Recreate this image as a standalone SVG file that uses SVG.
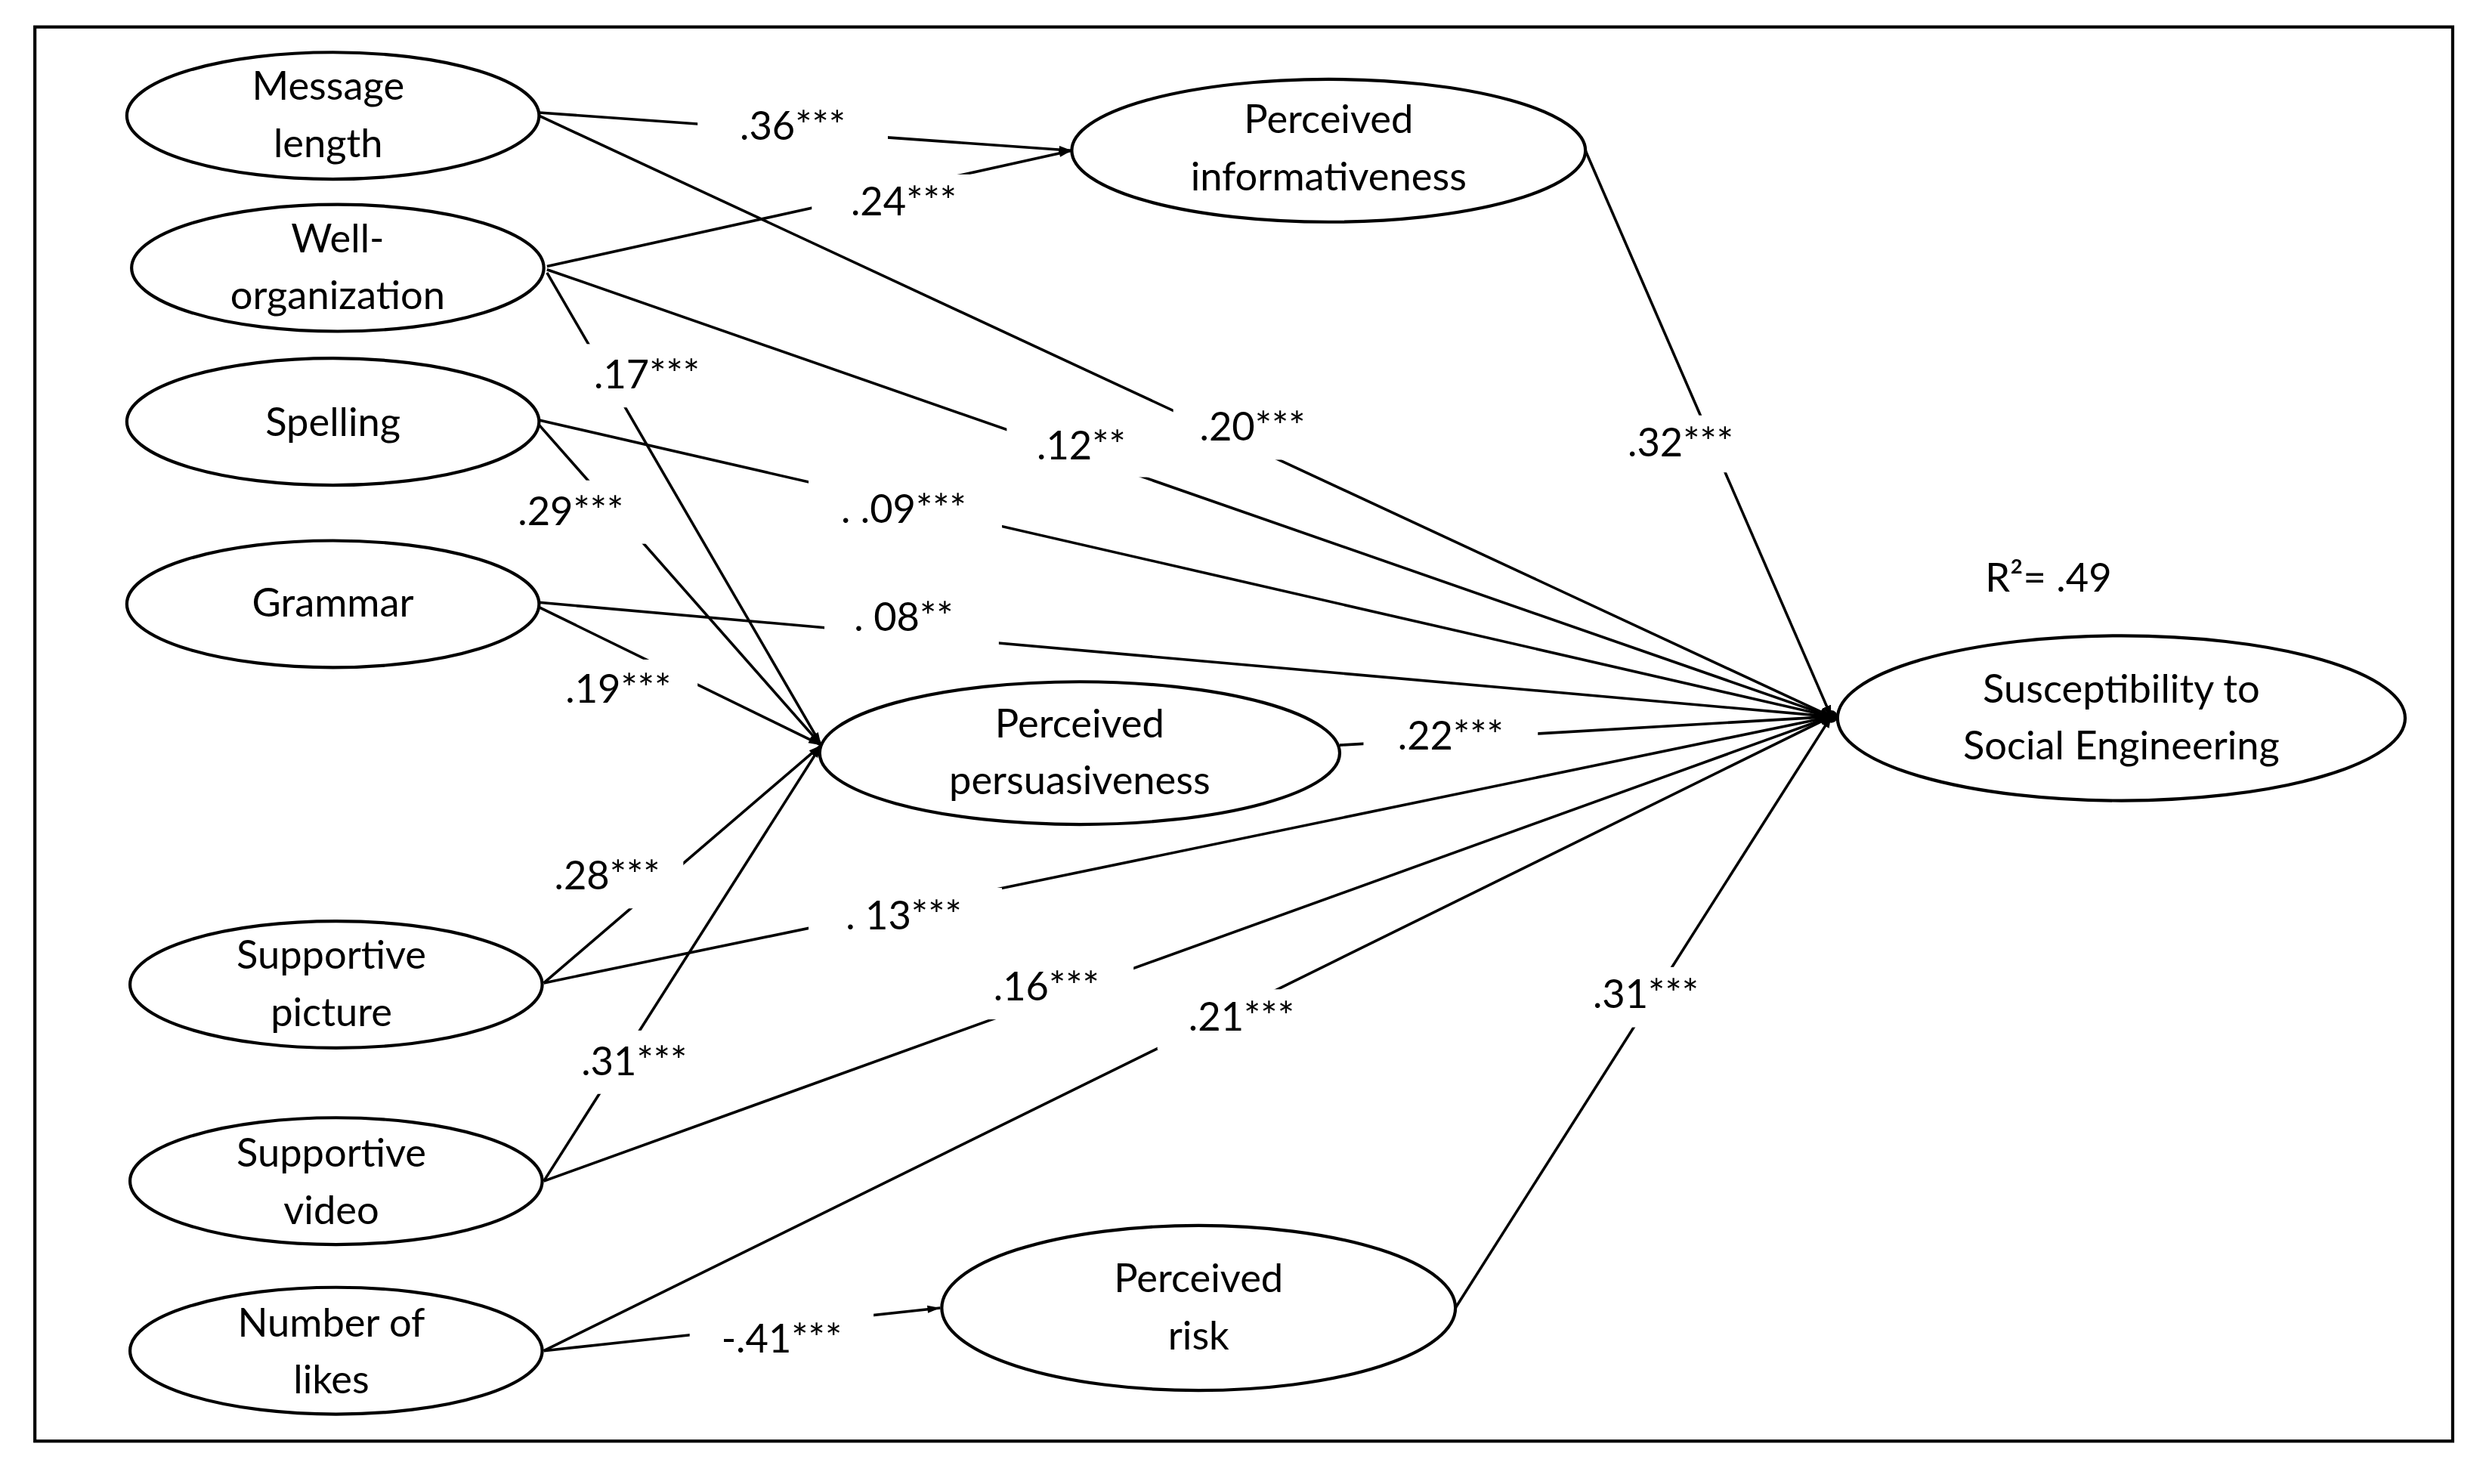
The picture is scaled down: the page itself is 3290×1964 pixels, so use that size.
<svg xmlns="http://www.w3.org/2000/svg" width="3290" height="1964" viewBox="0 0 3290 1964">
<style>
.n{fill:#fff;stroke:#000;stroke-width:2}
.t{font-family:Lato,"Open Sans",sans-serif;font-size:25px;text-anchor:middle;fill:#000}
.e line{stroke:#000;stroke-width:1.7}
.lb rect{fill:#fff}
</style>
<defs>
<marker id="a" viewBox="0 0 10 10" refX="10" refY="5" markerWidth="7" markerHeight="7" markerUnits="userSpaceOnUse" orient="auto"><path d="M0,1 L10,5 L0,9 Z" fill="#000"/></marker>
<marker id="b" viewBox="0 0 10 10" refX="10" refY="5" markerWidth="10" markerHeight="8" markerUnits="userSpaceOnUse" orient="auto"><path d="M0,2 L10,5 L0,8 Z" fill="#000"/></marker>
</defs>
<rect width="3290" height="1964" fill="#fff"/>
<g transform="scale(2.0982)">
<rect x="22" y="17" width="1525" height="892" fill="#fff" stroke="#000" stroke-width="2"/>
<g id="connectors" class="e">
<line x1="340" y1="71" x2="676" y2="95" marker-end="url(#b)"/>
<line x1="345" y1="168" x2="676" y2="95" marker-end="url(#b)"/>
<line x1="340" y1="73" x2="1155" y2="452" marker-end="url(#a)"/>
<line x1="345" y1="170" x2="1155" y2="452" marker-end="url(#a)"/>
<line x1="345" y1="172" x2="518" y2="470" marker-end="url(#b)"/>
<line x1="340" y1="265" x2="1155" y2="452" marker-end="url(#a)"/>
<line x1="340" y1="268" x2="518" y2="470" marker-end="url(#b)"/>
<line x1="340" y1="380" x2="1155" y2="452" marker-end="url(#a)"/>
<line x1="340" y1="383" x2="518" y2="470" marker-end="url(#b)"/>
<line x1="845" y1="470" x2="1155" y2="452" marker-end="url(#a)"/>
<line x1="343" y1="620" x2="518" y2="470" marker-end="url(#b)"/>
<line x1="343" y1="620" x2="1155" y2="452" marker-end="url(#a)"/>
<line x1="343" y1="745" x2="518" y2="470" marker-end="url(#b)"/>
<line x1="343" y1="745" x2="1155" y2="452" marker-end="url(#a)"/>
<line x1="343" y1="852" x2="1155" y2="452" marker-end="url(#a)"/>
<line x1="343" y1="852" x2="593" y2="825" marker-end="url(#b)"/>
<line x1="1000" y1="95" x2="1155" y2="452" marker-end="url(#a)"/>
<line x1="918" y1="825" x2="1155" y2="452" marker-end="url(#a)"/>
<circle cx="1155" cy="452" r="4" fill="#000"/>
</g>
<g id="labels" class="lb">
<rect x="440" y="62" width="120" height="34"/><text class="t" x="500" y="88">.36***</text>
<rect x="512" y="110" width="116" height="34"/><text class="t" x="570" y="136">.24***</text>
<rect x="362" y="217" width="90" height="40"/><text class="t" x="408" y="245">.17***</text>
<rect x="740" y="252" width="110" height="38"/><text class="t" x="790" y="278">.20***</text>
<rect x="635" y="263" width="95" height="38"/><text class="t" x="682" y="290">.12**</text>
<rect x="510" y="303" width="122" height="38"/><text class="t" x="570" y="330">. .09***</text>
<rect x="310" y="303" width="100" height="40"/><text class="t" x="360" y="331">.29***</text>
<rect x="520" y="373" width="110" height="36"/><text class="t" x="570" y="398">. 08**</text>
<rect x="340" y="416" width="100" height="38"/><text class="t" x="390" y="443">.19***</text>
<rect x="860" y="448" width="110" height="36"/><text class="t" x="915" y="473">.22***</text>
<rect x="335" y="535" width="96" height="38"/><text class="t" x="383" y="561">.28***</text>
<rect x="510" y="560" width="122" height="38"/><text class="t" x="570" y="586">. 13***</text>
<rect x="350" y="650" width="100" height="40"/><text class="t" x="400" y="678">.31***</text>
<rect x="605" y="605" width="110" height="38"/><text class="t" x="660" y="631">.16***</text>
<rect x="730" y="624" width="108" height="38"/><text class="t" x="783" y="650">.21***</text>
<rect x="435" y="826" width="116" height="38"/><text class="t" x="493" y="853">-.41***</text>
<rect x="1005" y="262" width="110" height="36"/><text class="t" x="1060" y="288">.32***</text>
<rect x="983" y="610" width="110" height="38"/><text class="t" x="1038" y="636">.31***</text>
<text class="t" x="1292" y="373">R²= .49</text>
</g>
<g id="n_ml"><ellipse class="n" cx="210" cy="73" rx="130" ry="40"/><text class="t" x="207" y="63">Message</text><text class="t" x="207" y="99">length</text></g>
<g id="n_wo"><ellipse class="n" cx="213" cy="169" rx="130" ry="40"/><text class="t" x="213" y="159">Well-</text><text class="t" x="213" y="195">organization</text></g>
<g id="n_sp"><ellipse class="n" cx="210" cy="266" rx="130" ry="40"/><text class="t" x="210" y="275">Spelling</text></g>
<g id="n_gr"><ellipse class="n" cx="210" cy="381" rx="130" ry="40"/><text class="t" x="210" y="389">Grammar</text></g>
<g id="n_pic"><ellipse class="n" cx="212" cy="621" rx="130" ry="40"/><text class="t" x="209" y="611">Supportive</text><text class="t" x="209" y="647">picture</text></g>
<g id="n_vid"><ellipse class="n" cx="212" cy="745" rx="130" ry="40"/><text class="t" x="209" y="736">Supportive</text><text class="t" x="209" y="772">video</text></g>
<g id="n_lik"><ellipse class="n" cx="212" cy="852" rx="130" ry="40"/><text class="t" x="209" y="843">Number of</text><text class="t" x="209" y="879">likes</text></g>
<g id="n_inf"><ellipse class="n" cx="838" cy="95" rx="162" ry="45"/><text class="t" x="838" y="84">Perceived</text><text class="t" x="838" y="120">informativeness</text></g>
<g id="n_per"><ellipse class="n" cx="681" cy="475" rx="164" ry="45"/><text class="t" x="681" y="465">Perceived</text><text class="t" x="681" y="501">persuasiveness</text></g>
<g id="n_risk"><ellipse class="n" cx="756" cy="825" rx="162" ry="52"/><text class="t" x="756" y="815">Perceived</text><text class="t" x="756" y="851">risk</text></g>
<g id="n_sse"><ellipse class="n" cx="1338" cy="453" rx="179" ry="52"/><text class="t" x="1338" y="443">Susceptibility to</text><text class="t" x="1338" y="479">Social Engineering</text></g>
</g>
</svg>
